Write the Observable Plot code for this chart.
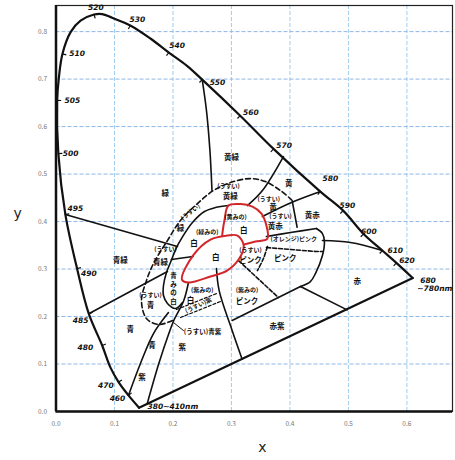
<!DOCTYPE html>
<html><head><meta charset="utf-8">
<script src="https://cdn.jsdelivr.net/npm/d3@7"></script>
<script src="https://cdn.jsdelivr.net/npm/@observablehq/plot@0.6"></script>
<style>body{margin:0;background:#fff}</style>
</head><body><div id="chart"></div>
<script>
// spectral locus: [x, y, wavelength]
const locus = [
  [0.142,0.008,""],[0.124,0.034,"460"],[0.107,0.062,"470"],[0.093,0.093,""],[0.079,0.139,"480"],
  [0.056,0.206,"485"],[0.036,0.301,"490"],[0.016,0.415,"495"],[0.004,0.543,"500"],
  [0.002,0.655,"505"],[0.005,0.704,""],[0.011,0.753,"510"],[0.025,0.799,""],[0.042,0.823,""],
  [0.065,0.836,"520"],[0.079,0.837,""],[0.096,0.829,""],[0.127,0.813,"530"],[0.162,0.785,""],
  [0.193,0.756,"540"],[0.224,0.728,""],[0.250,0.699,"550"],[0.315,0.623,"560"],[0.372,0.553,"570"],
  [0.452,0.463,"580"],[0.491,0.423,"590"],[0.526,0.374,"600"],[0.558,0.339,"610"],[0.582,0.313,"620"],
  [0.610,0.281,"680"]
];
const purpleLine = [[0.610,0.281],[0.142,0.008]];

// wavelength labels
const wlText = ["520","530","540","550","560","570","580","590","600","610","620","680","~780nm","510","505","500","495","490","485","480","470","460","380~410nm"];
const wlX = [0.065,0.136,0.204,0.273,0.330,0.387,0.466,0.495,0.532,0.577,0.597,0.633,0.628,0.033,0.025,0.022,0.030,0.053,0.039,0.047,0.082,0.102,0.1667];
const wlY = [0.851,0.825,0.771,0.693,0.630,0.560,0.490,0.434,0.378,0.339,0.318,0.276,0.259,0.753,0.655,0.543,0.427,0.290,0.192,0.135,0.055,0.027,0.0105];

// solid boundary lines
const line550 = [[0.250,0.699],[0.2573,0.6337],[0.2632,0.5495],[0.2667,0.4653]];
const line570 = [[0.3889,0.5368],[0.3530,0.4653],[0.3274,0.4337]];
const line583 = [[0.4521,0.4632],[0.4026,0.4400],[0.3530,0.4105]];
const lineYR = [[0.4038,0.4442],[0.4123,0.3880]];
const linePinkTop = [[0.3598,0.3684],[0.4009,0.3768],[0.4453,0.3853]];
const line610 = [[0.4556,0.3600],[0.5034,0.3558],[0.558,0.339]];
const pinkCurve = [[0.4453,0.3853],[0.4556,0.3747],[0.459,0.3579],[0.4556,0.3284],[0.4436,0.2905],[0.435,0.2737],[0.418,0.2632]];
const lineRed = [[0.418,0.2632],[0.4978,0.214]];
const lineRP = [[0.418,0.2632],[0.3012,0.1916]];
const lineP = [[0.2744,0.3011],[0.2790,0.2547],[0.3012,0.1705],[0.3183,0.110]];
const line495 = [[0.016,0.415],[0.2077,0.3474]];
const line485 = [[0.056,0.206],[0.1906,0.2947]];
const lineBW = [[0.1974,0.32],[0.2342,0.3263]];
const lineB1 = [[0.1239,0.0337],[0.1444,0.1011],[0.1667,0.1642],[0.1923,0.2084]];
const lineB2 = [[0.1559,0.0161],[0.1757,0.1004],[0.1928,0.1636],[0.2014,0.1916],[0.2185,0.2337],[0.2265,0.2716]];
const innerSolid = [[0.2949,0.4337],[0.2726,0.4295],[0.2538,0.4211],[0.2333,0.3979],[0.2145,0.3642],[0.206,0.3453],[0.1957,0.3137],[0.1889,0.2926],[0.1838,0.2653],[0.1838,0.2442],[0.1906,0.2274],[0.2043,0.2168],[0.2162,0.2295]];
const leader = [[0.2009,0.1874],[0.218,0.1705]];

// dashed boundaries
const outerDashed = [[0.1991,0.1916],[0.1752,0.1832],[0.1547,0.1958],[0.1462,0.2337],[0.1547,0.2758],[0.1667,0.3116],[0.1906,0.36],[0.2128,0.4021],[0.2419,0.4379],[0.2692,0.4653],[0.2983,0.4821],[0.3325,0.4905],[0.3581,0.4842],[0.3838,0.4653],[0.4026,0.4463]];
const dashOP = [[0.3598,0.3453],[0.4453,0.3368],[0.4556,0.3368]];
const dashPinkA = [[0.312,0.3179],[0.3803,0.240]];
const dashPinkB = [[0.3615,0.3474],[0.3547,0.3221],[0.3444,0.2968]];
const dashVioTop = [[0.206,0.2147],[0.2744,0.2484]];
const dashVioBot = [[0.2128,0.1979],[0.2812,0.2316]];

// red "白" region
const redEllipse = [[0.2154,0.2779],[0.2342,0.3284],[0.2641,0.3621],[0.2926,0.3705],[0.3103,0.3705],[0.321,0.3495],[0.3128,0.3211],[0.2926,0.2968],[0.2641,0.2842],[0.2265,0.2716]];
const redUpper = [[0.2841,0.3705],[0.288,0.4021],[0.2949,0.4337],[0.3154,0.4368],[0.3359,0.4316],[0.3513,0.4168],[0.3598,0.3916],[0.3615,0.3642],[0.341,0.3579],[0.3214,0.3516]];

// colour-name labels
const bigText = ["黄緑","緑","黄","黄赤","赤","赤紫","紫","青","青緑","ピンク","白","白","白","白","緑","青緑","青","黄緑","黄","黄赤","ピンク","ピンク","青","紫"];
const bigX = [0.300,0.187,0.398,0.438,0.515,0.378,0.216,0.127,0.110,0.392,0.273,0.321,0.236,0.230,0.213,0.1786,0.1615,0.298,0.371,0.375,0.3325,0.3268,0.164,0.147];
const bigY = [0.534,0.458,0.479,0.413,0.274,0.178,0.135,0.172,0.318,0.322,0.325,0.381,0.353,0.234,0.385,0.314,0.223,0.453,0.4285,0.389,0.318,0.2316,0.139,0.072];
const smallText = ["(うすい)","(うすい)","(うすい)","(うすい)","(うすい)","(うすい)","(黄みの)","(緑みの)","(紫みの)","(紫みの)","(オレンジ)ピンク"];
const smallX = [0.1872,0.1615,0.2949,0.3638,0.3838,0.3325,0.3068,0.2585,0.2499,0.3268,0.4065];
const smallY = [0.3425,0.2442,0.4737,0.4475,0.4115,0.3389,0.409,0.3775,0.2547,0.2547,0.3636];
const rotText = ["(うすい)","(うすい)紫"];
const rotX = [0.2300,0.2436];
const rotY = [0.4196,0.2232];
const rotA = [-38,-25];
const vertText = ["青","み","の","白"];
const vertX = [0.2009,0.2009,0.2009,0.2009];
const vertY = [0.2853,0.2674,0.2495,0.2316];
const noteText = ["(うすい)青紫"];
const noteX = [0.2185];
const noteY = [0.1669];

const xTicks = [0,0.1,0.2,0.3,0.4,0.5,0.6];
const yTicks = [0,0.1,0.2,0.3,0.4,0.5,0.6,0.7,0.8];

const XK = 585, YK = 475;
const ticks = [];
for (let i = 1; i < locus.length - 1; i++) {
  if (!locus[i][2]) continue;
  const dx = (locus[i+1][0] - locus[i-1][0]) * XK, dy = (locus[i+1][1] - locus[i-1][1]) * YK;
  const L = Math.hypot(dx, dy);
  const nx = dy / L, ny = -dx / L;
  ticks.push({x1: locus[i][0], y1: locus[i][1], x2: locus[i][0] + nx * 4 / XK, y2: locus[i][1] + ny * 4 / YK});
}
const sline = (data, o = {}) => Plot.line(data, {x: d => d[0], y: d => d[1], stroke: "#111", strokeWidth: 1.6, curve: "catmull-rom", ...o});
const idx = a => a.map((_, i) => i);
const font = "'Noto Sans CJK JP', sans-serif";

const chart = Plot.plot({
  width: 455, height: 460,
  marginLeft: 55.5, marginRight: 3, marginTop: 5, marginBottom: 49,
  x: {domain: [0, 0.678], ticks: xTicks, tickFormat: d3.format(".1f"), tickSize: 0, tickPadding: 10, label: null},
  y: {domain: [0, 0.855], ticks: yTicks, tickFormat: d3.format(".1f"), tickSize: 0, tickPadding: 9, label: null},
  style: {fontFamily: font, fontSize: "6.5px", color: "#777", background: "#fff"},
  marks: [
    Plot.ruleX(xTicks.slice(1), {stroke: "#9fcdee", strokeDasharray: "4,2", strokeWidth: 1}),
    Plot.ruleY(yTicks.slice(1), {stroke: "#8fb7e6", strokeDasharray: "4,2", strokeWidth: 1}),
    Plot.frame({stroke: "#222", strokeWidth: 1.2}),
    Plot.ruleX([0], {stroke: "#111", strokeWidth: 2.5}),
    Plot.ruleY([0], {stroke: "#111", strokeWidth: 2.5}),
    sline(locus, {strokeWidth: 2.2}),
    sline(purpleLine, {strokeWidth: 2.2, curve: "linear"}),
    Plot.link(ticks, {x1: "x1", y1: "y1", x2: "x2", y2: "y2", stroke: "#111", strokeWidth: 1.2}),
    sline(line550), sline(line570), sline(line583), sline(lineYR), sline(linePinkTop), sline(line610),
    sline(pinkCurve), sline(lineRed, {curve: "linear"}), sline(lineRP, {curve: "linear"}), sline(lineP),
    sline(line495, {curve: "linear"}), sline(line485, {curve: "linear"}), sline(lineBW, {curve: "linear"}),
    sline(lineB1), sline(lineB2), sline(innerSolid), sline(leader, {strokeWidth: 1, curve: "linear"}),
    sline(outerDashed, {strokeDasharray: "5,3"}), sline(dashOP, {strokeDasharray: "4,2", curve: "linear"}),
    sline(dashPinkA, {strokeDasharray: "4,2", curve: "linear"}), sline(dashPinkB, {strokeDasharray: "4,2"}),
    sline(dashVioTop, {strokeDasharray: "3,2", strokeWidth: 1.2, curve: "linear"}),
    sline(dashVioBot, {strokeDasharray: "3,2", strokeWidth: 1.2, curve: "linear"}),
    sline(redEllipse, {stroke: "#d3262b", strokeWidth: 2, curve: "catmull-rom-closed"}),
    sline(redUpper, {stroke: "#d3262b", strokeWidth: 2}),
    Plot.text(idx(wlText), {x: i => wlX[i], y: i => wlY[i], text: i => wlText[i], fontSize: 7.5, fontStyle: "italic", fontWeight: "bold", fill: "#111", textAnchor: "start", dx: -6, fontFamily: "DejaVu Sans"}),
    Plot.text(idx(bigText), {x: i => bigX[i], y: i => bigY[i], text: i => bigText[i], fontSize: 7.5, fontWeight: "bold", fill: "#111", fontFamily: font}),
    Plot.text(idx(smallText), {x: i => smallX[i], y: i => smallY[i], text: i => smallText[i], fontSize: 6, fontWeight: "bold", fill: "#111", fontFamily: font}),
    Plot.text(idx(rotText), {x: i => rotX[i], y: i => rotY[i], text: i => rotText[i], rotate: i => rotA[i], fontSize: 6, fontWeight: "bold", fill: "#111", fontFamily: font}),
    Plot.text(idx(vertText), {x: i => vertX[i], y: i => vertY[i], text: i => vertText[i], fontSize: 6.5, fontWeight: "bold", fill: "#111", fontFamily: font}),
    Plot.text(idx(noteText), {x: i => noteX[i], y: i => noteY[i], text: i => noteText[i], textAnchor: "start", fontSize: 6.5, fontWeight: "bold", fill: "#111", fontFamily: font}),
    Plot.text(["x"], {x: 0.353, y: -0.0758, text: d => d, fontSize: 14, fill: "#222", fontFamily: "DejaVu Sans"}),
    Plot.text(["y"], {x: -0.0658, y: 0.4168, text: d => d, fontSize: 14, fill: "#222", fontFamily: "DejaVu Sans"})
  ]
});
document.getElementById("chart").appendChild(chart);
</script></body></html>
